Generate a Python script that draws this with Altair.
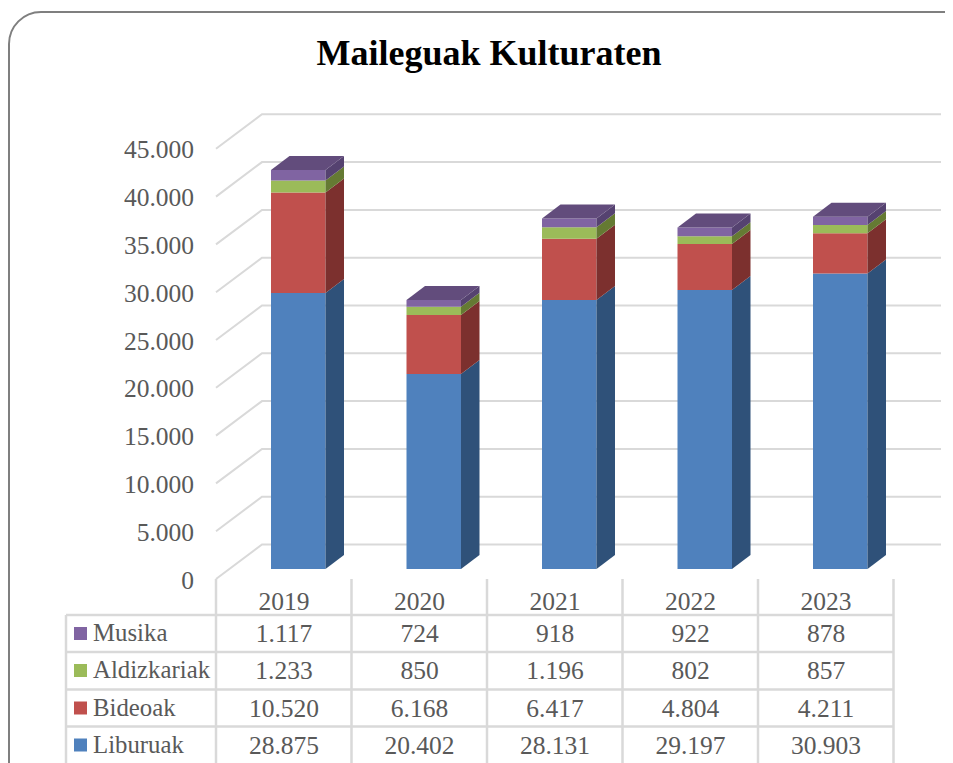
import altair as alt
import pandas as pd

YEARS = ["2019", "2020", "2021", "2022", "2023"]
SERIES = ["Liburuak", "Bideoak", "Aldizkariak", "Musika"]
LIBURUAK = [28875, 20402, 28131, 29197, 30903]
BIDEOAK = [10520, 6168, 6417, 4804, 4211]
ALDIZKARIAK = [1233, 850, 1196, 802, 857]
MUSIKA = [1117, 724, 918, 922, 878]
VALUES = [LIBURUAK, BIDEOAK, ALDIZKARIAK, MUSIKA]
TICKS = [0, 5000, 10000, 15000, 20000, 25000, 30000, 35000, 40000, 45000]
FRONT = ["#4F81BD", "#C0504D", "#9BBB59", "#8064A2"]
SIDE = ["#2F5179", "#7C302E", "#657A33", "#554270"]
TOP = "#624C7C"
GRID = "#D9D9D9"
TEXT = "#595959"
FONT = "Liberation Serif"
FS = 25.5

W, H = 937, 755
STEP = 135.5
K = 47.8 / 5000


def xc(p):
    return (p - 298.25) / STEP


def yv(p):
    return (569 - p) / K


fmt = lambda v: f"{v:,}".replace(",", ".")

X = alt.Scale(domain=[xc(8), xc(8 + W)], nice=False, zero=False)
Y = alt.Scale(domain=[yv(8 + H), yv(8)], nice=False, zero=False)
ex = lambda f="x": alt.X(f"{f}:Q", scale=X, axis=None, title=None)
ey = lambda f="y": alt.Y(f"{f}:Q", scale=Y, axis=None, title=None, stack=None)
ex2 = alt.X2("x2:Q")
ey2 = alt.Y2("y2:Q")

# bars
hw = 27.25 / STEP
dx = 18.5 / STEP
dv = 14 / K
fronts, faces = [], []
fid = 0
for i, yr in enumerate(YEARS):
    base = 0
    for s, vals in enumerate(VALUES):
        v0, v1 = base, base + vals[i]
        base = v1
        fronts.append(dict(x=i - hw, x2=i + hw, y=v0, y2=v1, c=FRONT[s]))
        fid += 1
        faces.append(dict(id=fid, x=i + hw, y=v0, y2=v1, c=SIDE[s]))
        faces.append(dict(id=fid, x=i + hw + dx, y=v0 + dv, y2=v1 + dv, c=SIDE[s]))
    fid += 1
    for x, a, b in [(i - hw, base, base), (i - hw + dx, base, base + dv),
                    (i + hw, base, base + dv), (i + hw + dx, base + dv, base + dv)]:
        faces.append(dict(id=fid, x=x, y=a, y2=b, c=TOP))

# gridlines on floor/side wall and back wall
grid = []
for v in TICKS:
    for x, shift in [(216, -10), (262, 24.5), (941, 24.5)]:
        grid.append(dict(t=v, x=xc(x), y=v + shift / K))

# table lines
col_edges = [216 + STEP * i for i in range(6)]
row_edges = [615, 652, 689.5, 726.5, 775]
hl = [dict(x=xc(66), x2=xc(col_edges[-1]), y=yv(r)) for r in row_edges[:-1]]
vl = [dict(x=xc(c), y=yv(579), y2=yv(775)) for c in col_edges]
vl.append(dict(x=xc(66), y=yv(615), y2=yv(775)))

# table text
cells = []
centers = [284 + STEP * i for i in range(5)]
for i, yr in enumerate(YEARS):
    cells.append(dict(x=xc(centers[i]), y=yv(601.5), t=yr))
rows = [(745.5, 0), (708.5, 1), (671, 2), (634, 3)]
for ry, s in rows:
    for i in range(5):
        cells.append(dict(x=xc(centers[i]), y=yv(ry), t=fmt(VALUES[s][i])))
legend = [dict(x=xc(93), y=yv(ry), t=SERIES[s], sx=xc(80.5), sy=yv(ry - 0.5), c=FRONT[s]) for ry, s in rows]
axis_lab = [dict(x=xc(194), y=yv(580.5) + v, t=fmt(v)) for v in TICKS]

txt = dict(font=FONT, fontSize=FS, color=TEXT, baseline="middle")

layers = [
    alt.Chart(pd.DataFrame(grid)).mark_line(color=GRID, strokeWidth=2).encode(x=ex(), y=ey(), detail="t:N"),
    alt.Chart(pd.DataFrame(fronts)).mark_rect().encode(x=ex(), x2=ex2, y=ey(), y2=ey2, color=alt.Color("c:N", scale=None)),
    alt.Chart(pd.DataFrame(faces)).mark_area(opacity=1).encode(x=ex(), y=ey(), y2=ey2, detail="id:N", color=alt.Color("c:N", scale=None)),
    alt.Chart(pd.DataFrame(hl)).mark_rule(color=GRID, strokeWidth=2.5).encode(x=ex(), x2=ex2, y=ey()),
    alt.Chart(pd.DataFrame(vl)).mark_rule(color=GRID, strokeWidth=2.5, clip=True).encode(x=ex(), y=ey(), y2=ey2),
    alt.Chart(pd.DataFrame(cells)).mark_text(align="center", **txt).encode(x=ex(), y=ey(), text="t:N"),
    alt.Chart(pd.DataFrame(legend)).mark_text(align="left", font=FONT, fontSize=24.8, color=TEXT, baseline="middle").encode(x=ex(), y=ey(), text="t:N"),
    alt.Chart(pd.DataFrame(legend)).mark_square(size=169, opacity=1).encode(x=ex("sx"), y=ey("sy"), color=alt.Color("c:N", scale=None)),
    alt.Chart(pd.DataFrame(axis_lab)).mark_text(align="right", **txt).encode(x=ex(), y=ey(), text="t:N"),
    alt.Chart(pd.DataFrame({"a": [0]})).mark_rect(filled=False, stroke="#7F7F7F", strokeWidth=2, cornerRadius=32, clip=True).encode(
        x=alt.value(1), x2=alt.value(990), y=alt.value(4), y2=alt.value(790)),
]

chart = alt.layer(*layers).properties(
    width=W, height=H, padding=0, autosize=alt.AutoSizeParams(type="none"), background="white",
    title=alt.TitleParams("Maileguak Kulturaten", font=FONT, fontSize=36, fontWeight="bold", color="black",
                          anchor="middle", frame="group", dx=12.5, dy=65, offset=0),
).configure_view(stroke=None)

chart.save("out.html", embed_options={"renderer": "svg", "actions": False})
